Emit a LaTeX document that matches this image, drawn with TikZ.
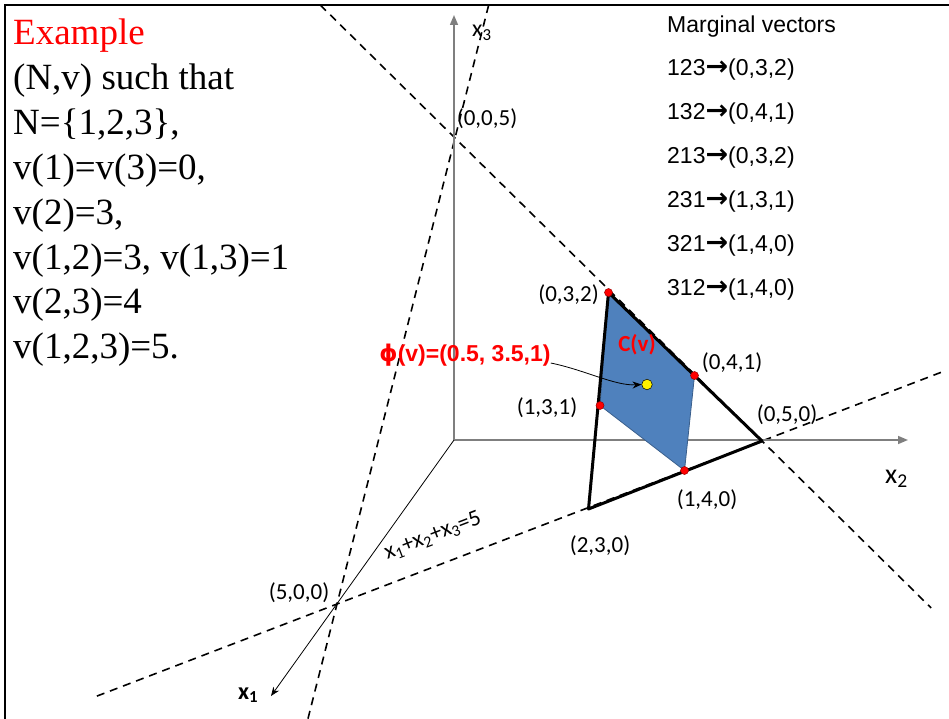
\documentclass[tikz,border=0pt]{standalone}
\usepackage{fontspec}
\setmainfont{Liberation Serif}
\newfontfamily\calfont{Carlito}
\newfontfamily\arialfont{Liberation Sans}
\newfontfamily\symfont{DejaVu Sans}
\newcommand{\marg}{{\symfont\bfseries\fontsize{27}{27}\selectfont →}}
\usetikzlibrary{arrows.meta, positioning, calc}

\definecolor{coreblue}{HTML}{4F81BD}
\definecolor{coreedge}{HTML}{3A5F8C}
\definecolor{axisgray}{HTML}{7F7F7F}

\begin{document}
\begin{tikzpicture}[
      x=1pt, y=-1pt,
      point/.style={font=\calfont\fontsize{23}{27}\selectfont, inner sep=0pt},
      axislabel/.style={font=\calfont\fontsize{24}{28}\selectfont, inner sep=0pt, anchor=base west},
      redlabel/.style={text=red, inner sep=0pt},
      axisline/.style={draw=axisgray, line width=1.5pt, -{Triangle[length=10pt, width=8pt]}},
      guide/.style={line width=1.6pt, dash pattern=on 8pt off 6pt},
      rim/.style={line width=3pt, line join=round},
      vertex/.style={circle, fill=red, draw=red!60!black, line width=0.5pt, minimum size=8pt, inner sep=0pt},
      arrow/.style={-{Stealth[length=9pt, width=7pt]}, line width=0.8pt}
    ]
    \useasboundingbox (0,0) rectangle (949,719);

    % frame
    \draw[line width=2.5pt] (5,719) -- (5,5) -- (949,5);

    % points of the simplex
    \coordinate (o) at (454,440);
    \coordinate (p005) at (455,138);
    \coordinate (p050) at (762,441);
    \coordinate (p500) at (337,604);
    \coordinate (p032) at (608.5,292.5);
    \coordinate (p041) at (694.5,375.5);
    \coordinate (p131) at (600,405.5);
    \coordinate (p140) at (684.5,470.5);
    \coordinate (p230) at (588.5,509);

    % dashed lines of the plane x1+x2+x3=5
    \coordinate (g1a) at ($(p005)!-0.439!(p050)$);
    \coordinate (g1b) at ($(p005)!1.551!(p050)$);
    \coordinate (g2a) at ($(p005)!-0.285!(p500)$);
    \coordinate (g2b) at ($(p005)!1.247!(p500)$);
    \coordinate (g3a) at ($(p500)!-0.565!(p050)$);
    \coordinate (g3b) at ($(p500)!1.431!(p050)$);
    \draw[guide] (g1a) -- (g1b);
    \draw[guide] (g2a) -- (g2b);
    \draw[guide] (g3a) -- (g3b);

    % axes
    \coordinate (x3tip) at (454,15);
    \coordinate (x2tip) at (908,440);
    \coordinate (x1tip) at (271,696);
    \draw[axisline] (o) -- (x3tip);
    \draw[axisline] (o) -- (x2tip);
    \draw[arrow] (o) -- (x1tip);

    % core and imputation triangle
    \fill[coreblue, draw=coreedge, line width=0.8pt] (p032) -- (p041) -- (p140) -- (p131) -- cycle;
    \draw[rim] (p032) -- (p050) -- (p230) -- cycle;

    \foreach \p in {p032, p041, p131, p140}
      \node[vertex] (d\p) at (\p) {};
    \node[circle, fill=yellow, draw=black, line width=0.5pt, minimum width=9pt, minimum height=10.5pt, inner sep=0pt] (shapley) at (647,384.5) {};

    % labels
    \node[point] (l005) at (487,119) {(0,0,5)};
    \node[point] (l032) at (568.5,295) {(0,3,2)};
    \node[point] (l041) at (732,363) {(0,4,1)};
    \node[point] (l131) at (547,408) {(1,3,1)};
    \node[point] (l050) at (787,415) {(0,5,0)};
    \node[point] (l140) at (707,500) {(1,4,0)};
    \node[point] (l230) at (600,546) {(2,3,0)};
    \node[point] (l500) at (299,593) {(5,0,0)};
    \node[point, rotate=21] (plane) at (433,536) {x\textsubscript{1}+x\textsubscript{2}+x\textsubscript{3}=5};

    \node[axislabel] (x3lbl) at (472,37) {x\textsubscript{3}};
    \node[axislabel, font=\calfont\fontsize{28}{32}\selectfont] (x2lbl) at (885,483) {x\textsubscript{2}};
    \node[axislabel, font=\calfont\bfseries\fontsize{24}{28}\selectfont] (x1lbl) at (238,699) {x\textsubscript{1}};

    \node[redlabel, font=\calfont\bfseries\fontsize{23}{27}\selectfont] (cv) at (637,345) {C(v)};
    \node[redlabel, font=\arialfont\bfseries\fontsize{23}{27}\selectfont] (philbl) at (465,355) {{\symfont\bfseries ϕ}(v)=(0.5, 3.5,1)};
    \draw[arrow] ([yshift=-8pt]philbl.east) .. controls (585,370) and (615,386) .. (shapley.west);

    % the game and its marginal vectors
    \node[anchor=north west, align=left, inner sep=0pt, font=\fontsize{37}{44.9}\selectfont] (game) at (13,18.7)
      {\textcolor{red}{Example}\\(N,v) such that\\N=\{1,2,3\},\\v(1)=v(3)=0,\\v(2)=3,\\v(1,2)=3, v(1,3)=1\\v(2,3)=4\\v(1,2,3)=5.};
    \node[anchor=north west, align=left, inner sep=0pt, font=\arialfont\fontsize{23}{43.9}\selectfont] (marginals) at (667,15.2)
      {Marginal vectors\\123\marg(0,3,2)\\132\marg(0,4,1)\\213\marg(0,3,2)\\231\marg(1,3,1)\\321\marg(1,4,0)\\312\marg(1,4,0)};
  \end{tikzpicture}
\end{document}
